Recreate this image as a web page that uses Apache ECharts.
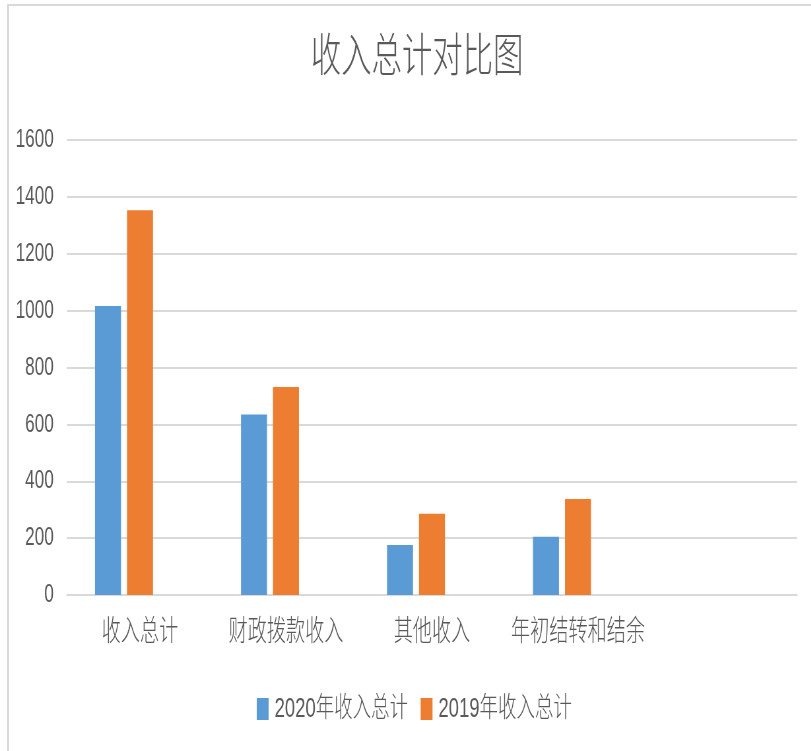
<!DOCTYPE html>
<html>
  <head>
    <meta charset="utf-8" />
    <title>收入总计对比图</title>
    <script src="https://cdn.jsdelivr.net/npm/echarts@6/dist/echarts.min.js"></script>
    <style type="text/css">
      body { margin: 0; overflow: hidden; background: #fff; }
      .frame {
        position: absolute; left: 7px; top: 4px; width: 900px; height: 900px;
        border-left: 2px solid #d9d9d9; border-top: 2px solid #d9d9d9;
      }
      /* the original picture is squeezed sideways, so draw wide and squeeze */
      #main {
        position: absolute; left: 0; top: 0; width: 1229px; height: 751px;
        transform: scaleX(0.66); transform-origin: 0 0;
      }
    </style>
  </head>
  <body>
    <div class="frame"></div>
    <div id="main"></div>
    <script type="text/javascript">
      var categories = ["收入总计", "财政拨款收入", "其他收入", "年初结转和结余", ""];
      var income2020 = [1016, 635, 176, 205, null];
      var income2019 = [1353, 731, 286, 338, null];
      var emptySeries = [null, null, null, null, null]; // 原表里的第三个空系列
      var yTicks = { min: 0, max: 1600, step: 200 };

      var myChart = echarts.init(document.getElementById("main"));
      var textColor = "#595959";
      var font = "'Liberation Sans', 'Noto Sans CJK SC', sans-serif";

      option = {
        animation: false,
        title: {
          text: "收入总计对比图",
          left: 627,
          textAlign: "center",
          top: 30,
          textStyle: { fontSize: 46, fontWeight: 300, color: textColor, fontFamily: font },
        },
        legend: {
          data: ["2020年收入总计", "2019年收入总计"],
          left: 384,
          top: 690,
          itemWidth: 18,
          itemHeight: 22,
          itemGap: 19,
          icon: "rect",
          textStyle: { fontSize: 28, fontWeight: 300, color: textColor, fontFamily: font, padding: [0, 0, 0, 4] },
        },
        grid: { left: 101.5, right: 21.5, top: 140, bottom: 156, containLabel: false },
        xAxis: {
          type: "category",
          data: categories,
          axisTick: { show: false },
          axisLine: { lineStyle: { color: "#d9d9d9", width: 2 } },
          axisLabel: { interval: 0, margin: 23, fontSize: 29, fontWeight: 300, color: textColor, fontFamily: font },
        },
        yAxis: {
          type: "value",
          min: yTicks.min,
          max: yTicks.max,
          interval: yTicks.step,
          axisLine: { show: false },
          axisTick: { show: false },
          splitLine: { lineStyle: { color: "#d9d9d9", width: 2 } },
          axisLabel: {
            margin: 20, fontSize: 26, color: textColor, fontFamily: font,
            formatter: function (v) { return String(v); },
          },
        },
        series: [
          {
            name: "2020年收入总计",
            type: "bar",
            data: income2020,
            barWidth: 39.4,
            barGap: "23%",
            itemStyle: { color: "#5b9bd5" },
          },
          {
            name: "2019年收入总计",
            type: "bar",
            data: income2019,
            barWidth: 39.4,
            barGap: "23%",
            itemStyle: { color: "#ed7d31" },
          },
          {
            name: "空",
            type: "bar",
            data: emptySeries,
            barWidth: 39.4,
            barGap: "23%",
            itemStyle: { color: "#a5a5a5" },
          },
        ],
      };

      myChart.setOption(option);
    </script>
  </body>
</html>
